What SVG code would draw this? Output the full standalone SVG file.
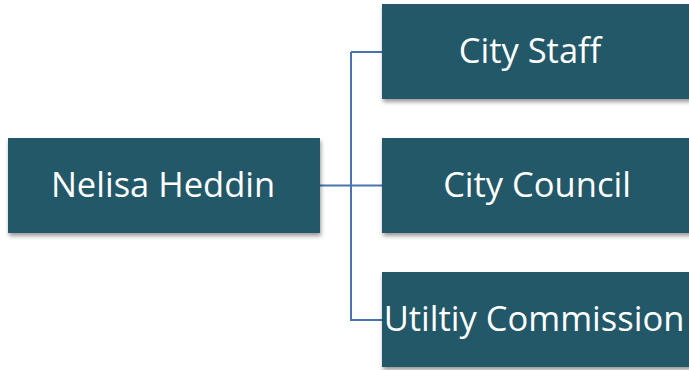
<svg xmlns="http://www.w3.org/2000/svg" width="689" height="370" viewBox="0 0 689 370">
<defs>
<style>
.box{fill:#215968;filter:url(#sh)}
.lbl{fill:#ffffff;font-family:"Open Sans","Noto Sans",sans-serif;font-size:34.5px;text-anchor:middle}
.conn{fill:none;stroke:#4a72b0;stroke-width:2}
</style>
<filter id="sh" x="-10%" y="-10%" width="130%" height="140%">
<feGaussianBlur in="SourceAlpha" stdDeviation="2"/>
<feOffset dx="1" dy="3" result="b"/>
<feComponentTransfer><feFuncA type="linear" slope="0.4"/></feComponentTransfer>
<feMerge><feMergeNode/><feMergeNode in="SourceGraphic"/></feMerge>
</filter>
</defs>
<rect width="689" height="370" fill="#ffffff"/>
<g id="connectors">
<path class="conn" d="M320 185.5 H382 M351 52 V320 H382 M351 52 H382"/>
</g>
<g id="nelisa">
<rect class="box" x="8" y="138" width="312" height="95"/>
<text class="lbl" x="163" y="197">Nelisa Heddin</text>
</g>
<g id="staff">
<rect class="box" x="382" y="4" width="320" height="95"/>
<text class="lbl" x="530" y="63">City Staff</text>
</g>
<g id="council">
<rect class="box" x="382" y="138" width="320" height="95"/>
<text class="lbl" x="537" y="197">City Council</text>
</g>
<g id="utility">
<rect class="box" x="382" y="272" width="320" height="95"/>
<text class="lbl" x="534" y="331">Utiltiy Commission</text>
</g>
</svg>
